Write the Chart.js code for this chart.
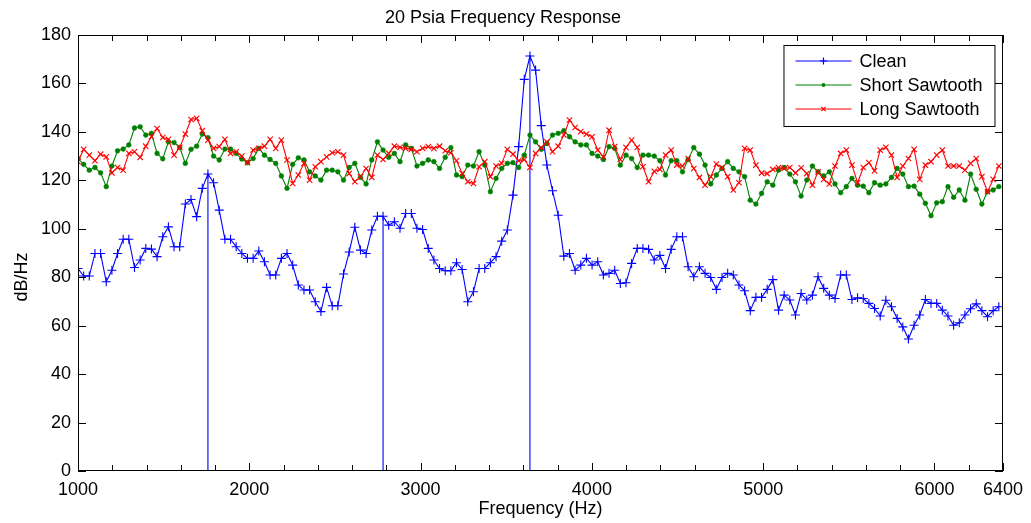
<!DOCTYPE html>
<html>
<head>
<meta charset="utf-8">
<title>20 Psia Frequency Response</title>
<script src="https://cdn.jsdelivr.net/npm/chart.js@4/dist/chart.umd.min.js"></script>
<style>
    html, body { margin: 0; padding: 0; background: #fff; }
    #wrap { width: 1031px; height: 523px; }
</style>
</head>
<body>
<div id="wrap"><canvas id="freqChart"></canvas></div>
<script>
// Frequency bins (Hz): uniform grid starting at 1000 Hz
const FREQ_START = 1000;
const FREQ_STEP = 32.98;

// dB/Hz values, one per bin
const clean = [
    83.6, 80.5, 80.5, 89.8, 89.8, 78.1, 82.9, 89.8, 95.7, 95.7,
    84.0, 87.1, 91.9, 91.6, 88.5, 96.7, 100.8, 92.6, 92.6, 110.2,
    112.1, 105.0, 116.7, 122.6, 119.0, 107.7, 95.7, 95.7, 92.6, 89.8,
    87.8, 87.8, 90.8, 86.4, 80.9, 80.9, 87.8, 89.8, 85.0, 76.8,
    74.7, 74.7, 69.9, 65.8, 75.8, 68.2, 68.2, 81.3, 90.4, 100.6,
    91.2, 89.8, 99.5, 105.2, 105.2, 101.5, 102.9, 100.2, 106.3, 106.3,
    100.2, 99.7, 91.9, 87.1, 83.6, 82.7, 82.7, 86.0, 83.2, 69.9,
    74.0, 83.6, 83.6, 86.0, 88.5, 94.9, 99.5, 113.9, 133.9, 161.7,
    171.3, 165.5, 142.6, 126.3, 115.7, 105.6, 88.7, 89.8, 82.9, 85.0,
    87.8, 85.0, 86.4, 80.9, 81.6, 82.9, 77.4, 77.7, 85.7, 91.9,
    91.9, 91.5, 87.1, 89.0, 83.6, 91.5, 96.7, 96.7, 84.3, 80.2,
    84.3, 81.6, 79.9, 75.0, 79.9, 81.6, 80.9, 76.8, 74.4, 66.2,
    71.7, 71.7, 75.0, 79.0, 66.4, 72.6, 70.6, 64.4, 73.3, 70.6,
    72.6, 80.2, 75.4, 72.6, 71.2, 80.9, 80.9, 70.8, 71.5, 71.2,
    69.2, 67.1, 64.0, 70.5, 67.8, 63.0, 59.5, 54.5, 60.2, 64.4,
    70.8, 69.2, 69.2, 66.4, 64.0, 60.2, 61.2, 64.4, 67.0, 69.0,
    66.2, 63.7, 66.2, 67.8
];

const shortSawtooth = [
    129.0, 126.6, 124.2, 125.3, 123.1, 117.4, 125.9, 132.2, 132.9, 134.6,
    141.6, 142.1, 138.7, 139.4, 131.1, 128.9, 135.9, 135.6, 133.6, 127.0,
    132.8, 134.1, 139.1, 137.6, 130.0, 128.4, 132.9, 132.9, 131.1, 128.8,
    127.3, 129.0, 133.2, 130.4, 128.6, 127.0, 121.8, 116.7, 126.6, 129.3,
    128.4, 123.5, 121.8, 120.1, 124.2, 124.2, 123.5, 120.1, 125.3, 127.0,
    121.2, 118.5, 128.4, 135.9, 132.5, 129.5, 131.1, 127.7, 134.6, 133.2,
    125.9, 127.0, 128.4, 127.7, 124.9, 129.5, 133.5, 122.2, 121.5, 126.3,
    125.9, 131.8, 126.3, 115.3, 120.8, 124.9, 127.0, 127.3, 125.3, 130.4,
    138.7, 135.9, 132.8, 135.2, 138.7, 139.4, 140.5, 138.0, 135.9, 134.6,
    134.6, 131.1, 130.0, 128.6, 133.9, 133.2, 126.3, 130.4, 129.0, 125.3,
    130.4, 130.4, 130.0, 128.1, 122.2, 128.1, 128.1, 123.5, 128.6, 133.5,
    130.8, 126.3, 118.5, 122.2, 124.9, 127.7, 124.9, 123.5, 121.5, 111.8,
    110.2, 114.6, 119.4, 118.0, 124.2, 125.3, 122.6, 119.4, 113.5, 120.1,
    125.9, 123.5, 121.8, 123.5, 118.5, 114.9, 117.4, 120.8, 118.0, 117.6,
    114.9, 119.0, 118.0, 118.5, 121.2, 124.9, 122.6, 117.4, 117.6, 114.3,
    110.5, 105.4, 110.7, 111.2, 117.4, 113.0, 116.0, 111.8, 122.6, 116.3,
    110.2, 115.3, 116.0, 117.4
];

const longSawtooth = [
    127.7, 132.8, 130.4, 128.1, 130.8, 129.7, 123.1, 125.3, 124.2, 131.1,
    131.8, 129.5, 134.1, 138.0, 141.4, 137.7, 136.9, 130.4, 133.6, 139.1,
    145.1, 145.6, 140.5, 136.6, 133.2, 133.9, 136.9, 131.1, 131.8, 130.0,
    127.3, 132.5, 133.2, 134.1, 136.9, 133.2, 136.6, 128.4, 118.7, 122.2,
    127.0, 120.1, 125.6, 127.7, 129.7, 131.4, 131.8, 130.4, 122.8, 119.4,
    121.5, 124.9, 121.2, 130.4, 128.6, 131.1, 134.1, 133.6, 133.2, 132.8,
    131.8, 133.2, 133.9, 133.2, 134.1, 132.2, 131.4, 128.1, 122.9, 119.4,
    118.7, 125.6, 127.7, 121.5, 125.9, 127.0, 132.8, 130.8, 128.1, 128.6,
    125.3, 131.1, 133.5, 135.9, 131.8, 134.1, 138.7, 144.9, 141.8, 140.1,
    139.1, 138.0, 132.5, 129.7, 140.7, 133.9, 128.6, 133.6, 136.6, 133.6,
    125.6, 119.4, 123.7, 124.5, 130.4, 132.5, 126.3, 125.9, 129.0, 124.9,
    121.2, 118.0, 121.5, 126.7, 125.3, 121.5, 116.0, 119.0, 133.2, 132.5,
    126.3, 123.0, 122.8, 124.5, 125.3, 124.9, 125.3, 123.1, 125.2, 122.8,
    118.0, 123.5, 120.4, 118.5, 125.9, 131.1, 132.5, 126.3, 119.0, 125.3,
    127.3, 123.9, 132.5, 133.6, 130.4, 121.2, 125.9, 129.0, 132.8, 120.4,
    126.3, 127.7, 130.4, 132.5, 125.9, 125.9, 125.9, 124.2, 127.0, 129.0,
    121.5, 115.3, 120.4, 125.9
];

// bins where the Clean trace drops straight to the floor
const spikeBins = [23, 54, 80];

const xTickLabels = [1000, 2000, 3000, 4000, 5000, 6000, 6400];
const xMinorStep = 200;
const yTicks = [0, 20, 40, 60, 80, 100, 120, 140, 160, 180];

const FONT = '"Liberation Sans", Arial, Helvetica, sans-serif';

const freqs = clean.map((_, i) => FREQ_START + i * FREQ_STEP);
const toPoints = vals => vals.map((v, i) => ({ x: freqs[i], y: v }));

const spikePoints = [];
spikeBins.forEach(i => {
    spikePoints.push({ x: freqs[i], y: 0 }, { x: freqs[i], y: clean[i] }, { x: freqs[i], y: null });
});

// MATLAB-style box with inward ticks on all four sides, plus the y label
const axesFrame = {
    id: 'axesFrame',
    afterDraw(chart) {
        const { ctx, chartArea: a, scales: { x, y } } = chart;
        ctx.save();
        ctx.strokeStyle = '#000';
        ctx.lineWidth = 1;
        ctx.strokeRect(a.left + 0.5, a.top + 0.5, a.width - 1, a.height - 1);
        ctx.beginPath();
        for (let v = xTickLabels[0]; v <= xTickLabels[xTickLabels.length - 1]; v += xMinorStep) {
            const px = Math.round(x.getPixelForValue(v)) + 0.5;
            const len = xTickLabels.includes(v) ? 8 : 6;
            ctx.moveTo(px, a.bottom);
            ctx.lineTo(px, a.bottom - len);
            ctx.moveTo(px, a.top);
            ctx.lineTo(px, a.top + len);
        }
        yTicks.forEach(v => {
            const py = Math.round(y.getPixelForValue(v)) + 0.5;
            ctx.moveTo(a.left, py);
            ctx.lineTo(a.left + 8, py);
            ctx.moveTo(a.right, py);
            ctx.lineTo(a.right - 8, py);
        });
        ctx.stroke();

        // y axis label sits a little below the middle, as in the original
        ctx.translate(22, 277);
        ctx.rotate(-Math.PI / 2);
        ctx.font = '18px ' + FONT;
        ctx.fillStyle = '#000';
        ctx.textAlign = 'center';
        ctx.textBaseline = 'middle';
        ctx.fillText('dB/Hz', 0, 0);
        ctx.restore();
    }
};

function drawMarker(ctx, style, cx, cy, r, color) {
    ctx.strokeStyle = color;
    ctx.fillStyle = color;
    ctx.beginPath();
    if (style === 'cross') {
        ctx.moveTo(cx - r, cy); ctx.lineTo(cx + r, cy);
        ctx.moveTo(cx, cy - r); ctx.lineTo(cx, cy + r);
        ctx.stroke();
    } else if (style === 'crossRot') {
        const d = r * Math.SQRT1_2;
        ctx.moveTo(cx - d, cy - d); ctx.lineTo(cx + d, cy + d);
        ctx.moveTo(cx - d, cy + d); ctx.lineTo(cx + d, cy - d);
        ctx.stroke();
    } else {
        ctx.arc(cx, cy, r, 0, Math.PI * 2);
        ctx.fill();
    }
}

// legend box in the upper right corner of the axes
const boxLegend = {
    id: 'boxLegend',
    afterDraw(chart) {
        const { ctx, chartArea: a } = chart;
        const items = chart.data.datasets.filter(d => d.label);
        const w = 211, h = 81, rowH = 24.4;
        const left = a.right - 8.5 - w, top = a.top + 10;
        ctx.save();
        ctx.fillStyle = '#fff';
        ctx.fillRect(left, top, w, h);
        ctx.strokeStyle = '#000';
        ctx.lineWidth = 1;
        ctx.strokeRect(left + 0.5, top + 0.5, w, h);
        ctx.font = '18px ' + FONT;
        ctx.textBaseline = 'middle';
        ctx.textAlign = 'left';
        items.forEach((d, i) => {
            const cy = Math.round(top + 15.5 + i * rowH);
            ctx.strokeStyle = d.borderColor;
            ctx.lineWidth = 1.2;
            ctx.beginPath();
            ctx.moveTo(left + 12, cy);
            ctx.lineTo(left + 68, cy);
            ctx.stroke();
            drawMarker(ctx, d.pointStyle, left + 40, cy, d.pointRadius * 0.8, d.pointBorderColor);
            ctx.fillStyle = '#000';
            ctx.fillText(d.label, left + 76, cy + 1);
        });
        ctx.restore();
    }
};

new Chart(document.getElementById('freqChart'), {
    type: 'line',
    data: {
        datasets: [
            {
                label: 'Clean',
                data: toPoints(clean),
                borderColor: '#0000ff',
                borderWidth: 1.1,
                pointStyle: 'cross',
                pointRadius: 4.5,
                pointBorderColor: '#0000ff',
                pointBorderWidth: 1.1,
                order: 3
            },
            {
                label: 'Short Sawtooth',
                data: toPoints(shortSawtooth),
                borderColor: '#008000',
                borderWidth: 1.1,
                pointStyle: 'circle',
                pointRadius: 2.4,
                pointBorderColor: '#008000',
                pointBackgroundColor: '#008000',
                pointBorderWidth: 0.5,
                order: 2
            },
            {
                label: 'Long Sawtooth',
                data: toPoints(longSawtooth),
                borderColor: '#ff0000',
                borderWidth: 1.1,
                pointStyle: 'crossRot',
                pointRadius: 3.8,
                pointBorderColor: '#ff0000',
                pointBorderWidth: 1.1,
                order: 1
            },
            {
                label: '',
                data: spikePoints,
                borderColor: '#0000ff',
                borderWidth: 1.1,
                pointRadius: 0,
                spanGaps: false,
                order: 4
            }
        ]
    },
    options: {
        responsive: true,
        maintainAspectRatio: false,
        devicePixelRatio: 1,
        animation: false,
        events: [],
        layout: { padding: { top: 0, right: 25, bottom: 0, left: 0 } },
        elements: { line: { tension: 0 } },
        plugins: {
            legend: { display: false },
            tooltip: { enabled: false },
            title: {
                display: true,
                text: '20 Psia Frequency Response',
                color: '#000',
                font: { family: FONT, size: 18, weight: 'normal' },
                padding: { top: 7, bottom: 6.4 }
            }
        },
        scales: {
            x: {
                type: 'linear',
                min: 1000,
                max: 6400,
                grid: { display: false, drawTicks: false },
                border: { display: false },
                afterBuildTicks: s => { s.ticks = xTickLabels.map(v => ({ value: v })); },
                afterFit: s => { s.height = 52; },
                ticks: {
                    autoSkip: false,
                    maxRotation: 0,
                    padding: 8,
                    color: '#000',
                    font: { family: FONT, size: 18 },
                    callback: v => String(v)
                },
                title: {
                    display: true,
                    text: 'Frequency (Hz)',
                    color: '#000',
                    font: { family: FONT, size: 18 },
                    padding: { top: 0, bottom: 3 }
                }
            },
            y: {
                min: 0,
                max: 180,
                grid: { display: false, drawTicks: false },
                border: { display: false },
                afterBuildTicks: s => { s.ticks = yTicks.map(v => ({ value: v })); },
                afterFit: s => { s.width = 78; },
                ticks: {
                    padding: 7,
                    color: '#000',
                    font: { family: FONT, size: 18 }
                }
            }
        }
    },
    plugins: [axesFrame, boxLegend]
});
</script>
</body>
</html>
